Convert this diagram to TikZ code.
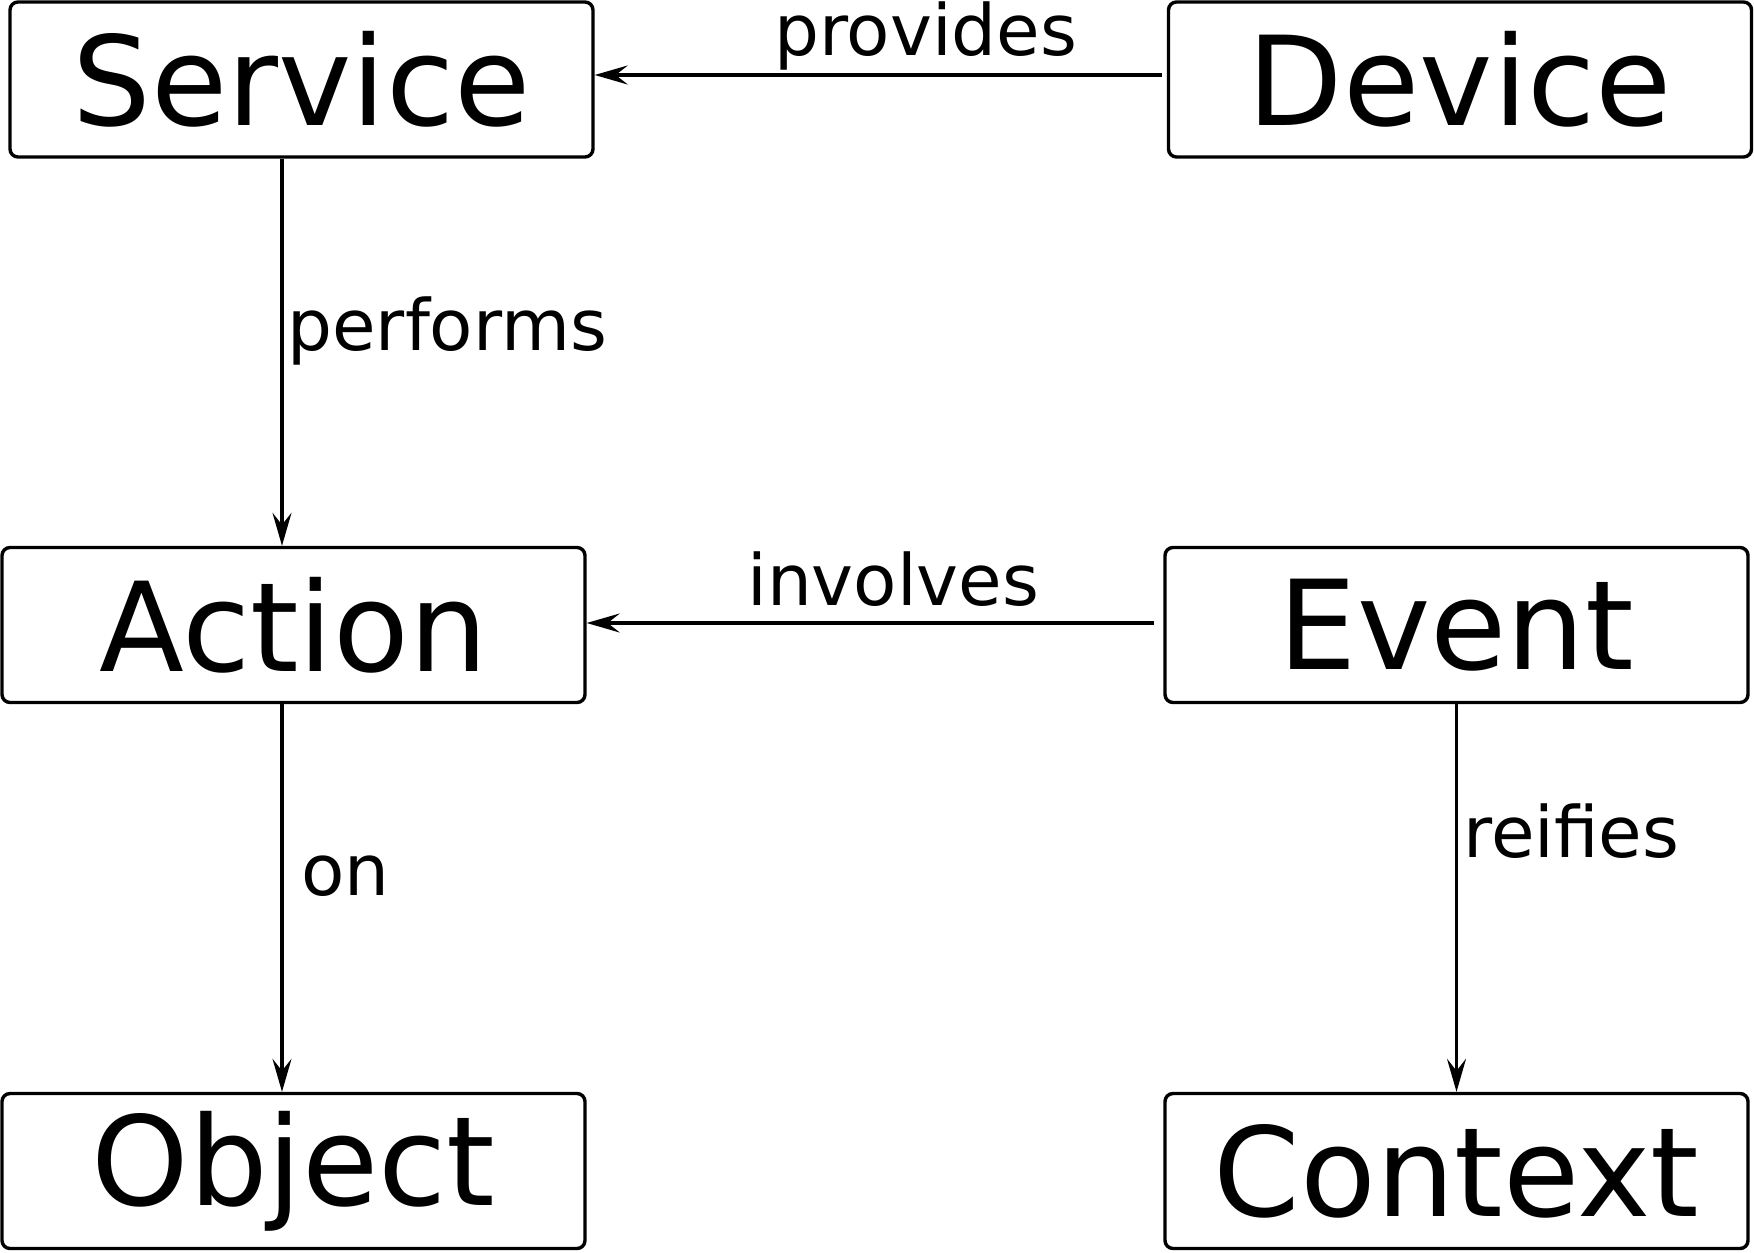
\documentclass[tikz,border=0pt]{standalone}
\usepackage{fontspec}
\setmainfont{DejaVu Sans}
\usetikzlibrary{positioning}
\usetikzlibrary{arrows.meta}

\tikzset{
  box/.style={draw, line width=1.7pt, rounded corners=4pt, inner sep=0pt,
    minimum width=291.5pt, minimum height=77.5pt,
    font=\fontsize{62}{62}\selectfont},
  lbl/.style={anchor=base west, inner sep=0pt, font=\fontsize{35.4}{35.4}\selectfont},
  link/.style={line width=1.6pt, -{Stealth[length=16.5pt, width=9.5pt, inset=6pt]}}
}

\begin{document}
\begin{tikzpicture}[x=0.5pt, y=-0.5pt]
  \useasboundingbox (0,0) rectangle (1754,1252);
  % boxes
  \node[box] (srv) at (301.5, 79.5) {Service};
  \node[box] (dev) at (1460.0, 79.5) {Device};
  \node[box] (act) at (293.5, 625.0) {Action};
  \node[box] (evt) at (1456.5, 625.0) {Event};
  \node[box] (obj) at (293.5, 1171.0) {Object};
  \node[box] (ctx) at (1456.5, 1171.0) {Context};
  \coordinate (colL) at (282, 0);
  % links
  \draw[link, shorten <=2.5pt] ([yshift=2.25pt]dev.west) -- ([yshift=2.25pt]srv.east);
  \draw[link, shorten <=4.5pt] ([yshift=1pt]evt.west) -- ([yshift=1pt]act.east);
  \draw[link] (srv.south -| colL) -- (act.north -| colL);
  \draw[link] (act.south -| colL) -- (obj.north -| colL);
  \draw[link] (evt.south) -- (ctx.north);
  % labels
  \node[lbl] (lprov) at (774, 56) {provides};
  \node[lbl] (lperf) at (287, 350) {performs};
  \node[lbl] (linv) at (747, 605) {involves};
  \node[lbl] (lon) at (301, 895) {on};
  \node[lbl] (lreif) at (1463, 857) {reifies};
\end{tikzpicture}
\end{document}
